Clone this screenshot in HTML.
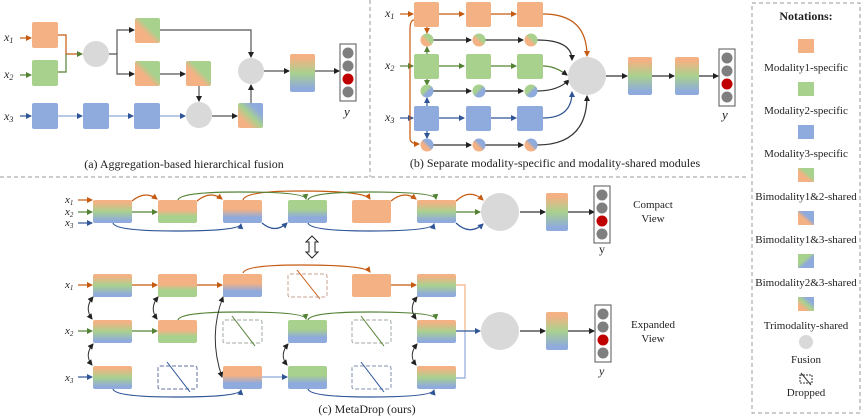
<!DOCTYPE html>
<html><head><meta charset="utf-8"><style>
html,body{margin:0;padding:0;background:#fff;}
svg{display:block;font-family:"Liberation Serif",serif;}
</style></head><body>
<svg width="864" height="418" viewBox="0 0 864 418" xmlns="http://www.w3.org/2000/svg">
<defs>
<linearGradient id="d12" x1="0" y1="1" x2="1" y2="0"><stop offset="0.4" stop-color="#f4b183"/><stop offset="0.6" stop-color="#a9d18e"/></linearGradient>
<linearGradient id="d13" x1="0" y1="1" x2="1" y2="0"><stop offset="0.4" stop-color="#f4b183"/><stop offset="0.6" stop-color="#8faadc"/></linearGradient>
<linearGradient id="d23" x1="0" y1="0" x2="1" y2="1"><stop offset="0.4" stop-color="#a9d18e"/><stop offset="0.6" stop-color="#8faadc"/></linearGradient>
<linearGradient id="d123" x1="0" y1="1" x2="1" y2="0"><stop offset="0.25" stop-color="#f4b183"/><stop offset="0.5" stop-color="#a9d18e"/><stop offset="0.75" stop-color="#8faadc"/></linearGradient>
<linearGradient id="v123" x1="0" y1="0" x2="0" y2="1"><stop offset="0.1" stop-color="#f4b183"/><stop offset="0.5" stop-color="#a9d18e"/><stop offset="0.9" stop-color="#8faadc"/></linearGradient>
<linearGradient id="v12" x1="0" y1="0" x2="0" y2="1"><stop offset="0.45" stop-color="#f4b183"/><stop offset="0.7" stop-color="#a9d18e"/></linearGradient>
<linearGradient id="v13" x1="0" y1="0" x2="0" y2="1"><stop offset="0.4" stop-color="#f4b183"/><stop offset="0.75" stop-color="#8faadc"/></linearGradient>
<linearGradient id="v23" x1="0" y1="0" x2="0" y2="1"><stop offset="0.4" stop-color="#a9d18e"/><stop offset="0.75" stop-color="#8faadc"/></linearGradient>
<marker id="ao" markerWidth="6" markerHeight="6" refX="5" refY="3" orient="auto" markerUnits="userSpaceOnUse"><path d="M0,0L6,3L0,6z" fill="#c55a11"/></marker>
<marker id="ag" markerWidth="6" markerHeight="6" refX="5" refY="3" orient="auto" markerUnits="userSpaceOnUse"><path d="M0,0L6,3L0,6z" fill="#548235"/></marker>
<marker id="ab" markerWidth="6" markerHeight="6" refX="5" refY="3" orient="auto" markerUnits="userSpaceOnUse"><path d="M0,0L6,3L0,6z" fill="#2f5597"/></marker>
<marker id="ak" markerWidth="6" markerHeight="6" refX="5" refY="3" orient="auto" markerUnits="userSpaceOnUse"><path d="M0,0L6,3L0,6z" fill="#222"/></marker>
<marker id="aks" markerWidth="6" markerHeight="6" refX="1" refY="3" orient="auto" markerUnits="userSpaceOnUse"><path d="M6,0L0,3L6,6z" fill="#222"/></marker>
<g id="ybox"><rect x="0" y="0" width="16" height="57" fill="#fff" stroke="#555" stroke-width="1"/><circle cx="8" cy="9" r="5.5" fill="#7f7f7f"/><circle cx="8" cy="22" r="5.5" fill="#7f7f7f"/><circle cx="8" cy="35" r="5.5" fill="#c00000"/><circle cx="8" cy="48" r="5.5" fill="#7f7f7f"/></g>
</defs>

<g stroke="#999" stroke-width="1" stroke-dasharray="4,3" fill="none">
<line x1="0" y1="177" x2="748" y2="177"/>
<line x1="370" y1="0" x2="370" y2="177"/>
<rect x="752" y="3" width="108" height="410"/>
</g>

<!-- (a) -->
<g fill="none" stroke-width="1.2">
<path d="M20,38H31" stroke="#c55a11" marker-end="url(#ao)"/>
<path d="M20,75H31" stroke="#548235" marker-end="url(#ag)"/>
<path d="M20,116H31" stroke="#2f5597" marker-end="url(#ab)"/>
<path d="M58,35H66V54H82" stroke="#c55a11" marker-end="url(#ag)"/>
<path d="M58,72H66V54" stroke="#548235"/>
<path d="M109,54H117V74H134" stroke="#555" marker-end="url(#ak)"/>
<path d="M117,54V30H134" stroke="#555" marker-end="url(#ak)"/>
<path d="M160,30H251V57" stroke="#555" marker-end="url(#ak)"/>
<path d="M160,74H185" stroke="#555" marker-end="url(#ak)"/>
<path d="M199,86V101" stroke="#555" marker-end="url(#ak)"/>
<path d="M58,116H82" stroke="#8faadc" marker-end="url(#ab)"/>
<path d="M109,116H133" stroke="#8faadc" marker-end="url(#ab)"/>
<path d="M160,116H185" stroke="#8faadc" marker-end="url(#ab)"/>
<path d="M212,116H237" stroke="#555" marker-end="url(#ak)"/>
<path d="M251,103V85" stroke="#555" marker-end="url(#ak)"/>
<path d="M264,71H289" stroke="#555" marker-end="url(#ak)"/>
<path d="M315,71H339" stroke="#555" marker-end="url(#ak)"/>
</g>
<g>
<rect x="32" y="22" width="26" height="26" rx="2" fill="#f4b183"/>
<rect x="32" y="60" width="26" height="26" rx="2" fill="#a9d18e"/>
<rect x="32" y="103" width="26" height="26" rx="2" fill="#8faadc"/>
<rect x="83" y="103" width="26" height="26" rx="2" fill="#8faadc"/>
<rect x="134" y="103" width="26" height="26" rx="2" fill="#8faadc"/>
<circle cx="96" cy="54" r="13" fill="#d9d9d9"/>
<rect x="135" y="18" width="25" height="25" rx="2" fill="url(#d12)"/>
<rect x="135" y="61" width="25" height="25" rx="2" fill="url(#d12)"/>
<rect x="186" y="61" width="25" height="25" rx="2" fill="url(#d12)"/>
<circle cx="199" cy="115" r="13" fill="#d9d9d9"/>
<rect x="238" y="103" width="25" height="25" rx="2" fill="url(#d123)"/>
<circle cx="251" cy="71" r="13" fill="#d9d9d9"/>
<rect x="290" y="54" width="25" height="38" rx="2" fill="url(#v123)"/>
<use href="#ybox" x="340" y="44"/>
</g>
<g font-style="italic" font-size="12" fill="#222">
<text x="4" y="41">x<tspan font-size="8" dy="2">1</tspan></text>
<text x="4" y="78">x<tspan font-size="8" dy="2">2</tspan></text>
<text x="4" y="120">x<tspan font-size="8" dy="2">3</tspan></text>
<text x="344" y="116" font-size="13">y</text>
</g>
<text x="184" y="168" font-size="12" text-anchor="middle" fill="#222">(a) Aggregation-based hierarchical fusion</text>

<!-- (b) -->
<g fill="none" stroke-width="1.2">
<path d="M400,14H413" stroke="#c55a11" marker-end="url(#ao)"/>
<path d="M439,14H464" stroke="#c55a11" marker-end="url(#ao)"/>
<path d="M491,14H516" stroke="#c55a11" marker-end="url(#ao)"/>
<path d="M543,14Q587,14 587,56" stroke="#c55a11" marker-end="url(#ao)"/>
<path d="M400,66H413" stroke="#548235" marker-end="url(#ag)"/>
<path d="M439,66H464" stroke="#548235" marker-end="url(#ag)"/>
<path d="M491,66H516" stroke="#548235" marker-end="url(#ag)"/>
<path d="M543,66Q555,66 567,75" stroke="#548235" marker-end="url(#ak)"/>
<path d="M400,118H413" stroke="#2f5597" marker-end="url(#ab)"/>
<path d="M439,118H464" stroke="#2f5597" marker-end="url(#ab)"/>
<path d="M491,118H516" stroke="#2f5597" marker-end="url(#ab)"/>
<path d="M543,118Q572,118 572,92" stroke="#2f5597" marker-end="url(#ab)"/>
<path d="M433,40H471" stroke="#333" marker-end="url(#ak)"/>
<path d="M485,40H523" stroke="#333" marker-end="url(#ak)"/>
<path d="M433,91H471" stroke="#333" marker-end="url(#ak)"/>
<path d="M485,91H523" stroke="#333" marker-end="url(#ak)"/>
<path d="M433,145H471" stroke="#333" marker-end="url(#ak)"/>
<path d="M485,145H523" stroke="#333" marker-end="url(#ak)"/>
<path d="M537,40Q572,40 572,60" stroke="#333" marker-end="url(#ak)"/>
<path d="M537,91Q558,91 569,80" stroke="#333" marker-end="url(#ak)"/>
<path d="M537,145Q587,145 587,96" stroke="#333" marker-end="url(#ak)"/>
<path d="M427,26V33" stroke="#c55a11" marker-end="url(#ao)"/>
<path d="M427,54V47" stroke="#548235" marker-end="url(#ag)"/>
<path d="M427,79V85" stroke="#548235" marker-end="url(#ag)"/>
<path d="M427,106V98" stroke="#2f5597" marker-end="url(#ab)"/>
<path d="M427,131V138" stroke="#2f5597" marker-end="url(#ab)"/>
<path d="M414,20Q410,20 410,30V138Q410,144 419,144" stroke="#c55a11" marker-end="url(#ao)"/>
<path d="M606,76H627" stroke="#333" marker-end="url(#ak)"/>
<path d="M652,76H674" stroke="#333" marker-end="url(#ak)"/>
<path d="M699,76H718" stroke="#333" marker-end="url(#ak)"/>
</g>
<g>
<rect x="414" y="2" width="25" height="25" rx="2" fill="#f4b183"/>
<rect x="466" y="2" width="25" height="25" rx="2" fill="#f4b183"/>
<rect x="517" y="2" width="26" height="25" rx="2" fill="#f4b183"/>
<rect x="414" y="54" width="25" height="25" rx="2" fill="#a9d18e"/>
<rect x="466" y="54" width="25" height="25" rx="2" fill="#a9d18e"/>
<rect x="517" y="54" width="26" height="25" rx="2" fill="#a9d18e"/>
<rect x="414" y="106" width="25" height="25" rx="2" fill="#8faadc"/>
<rect x="466" y="106" width="25" height="25" rx="2" fill="#8faadc"/>
<rect x="517" y="106" width="26" height="25" rx="2" fill="#8faadc"/>
<circle cx="427" cy="40" r="6.5" fill="url(#d12)"/><circle cx="479" cy="40" r="6.5" fill="url(#d12)"/><circle cx="531" cy="40" r="6.5" fill="url(#d12)"/>
<circle cx="427" cy="91" r="6.5" fill="url(#d23)"/><circle cx="479" cy="91" r="6.5" fill="url(#d23)"/><circle cx="531" cy="91" r="6.5" fill="url(#d23)"/>
<circle cx="427" cy="145" r="6.5" fill="url(#d13)"/><circle cx="479" cy="145" r="6.5" fill="url(#d13)"/><circle cx="531" cy="145" r="6.5" fill="url(#d13)"/>
<circle cx="587" cy="76" r="19" fill="#d9d9d9"/>
<rect x="628" y="57" width="24" height="38" rx="2" fill="url(#v123)"/>
<rect x="675" y="57" width="24" height="38" rx="2" fill="url(#v123)"/>
<use href="#ybox" x="719" y="49"/>
</g>
<g font-style="italic" font-size="12" fill="#222">
<text x="385" y="17">x<tspan font-size="8" dy="2">1</tspan></text>
<text x="385" y="69">x<tspan font-size="8" dy="2">2</tspan></text>
<text x="385" y="121">x<tspan font-size="8" dy="2">3</tspan></text>
<text x="722" y="119" font-size="13">y</text>
</g>
<text x="555" y="167" font-size="12" text-anchor="middle" fill="#222">(b) Separate modality-specific and modality-shared modules</text>

<!-- (c) compact -->
<g fill="none" stroke-width="1.2">
<path d="M78,200H92" stroke="#c55a11" marker-end="url(#ao)"/>
<path d="M78,212H92" stroke="#548235" marker-end="url(#ag)"/>
<path d="M78,223H92" stroke="#2f5597" marker-end="url(#ab)"/>
<path d="M132,201Q145,190 157,199" stroke="#c55a11" marker-end="url(#ao)"/>
<path d="M197,201Q210,190 222,199" stroke="#c55a11" marker-end="url(#ao)"/>
<path d="M243,200Q245,191 300,191Q365,191 370,199" stroke="#c55a11" marker-end="url(#ao)"/>
<path d="M391,201Q404,190 416,199" stroke="#c55a11" marker-end="url(#ao)"/>
<path d="M456,201Q470,188 483,200" stroke="#c55a11" marker-end="url(#ao)"/>
<path d="M178,200Q180,192 240,192Q305,192 306,199" stroke="#548235" marker-end="url(#ag)"/>
<path d="M308,200Q310,192 370,192Q435,192 436,199" stroke="#548235" marker-end="url(#ag)"/>
<path d="M132,212H157" stroke="#548235" marker-end="url(#ag)"/>
<path d="M456,212H480" stroke="#548235" marker-end="url(#ag)"/>
<path d="M113,223Q115,231 175,231Q240,231 241,224" stroke="#2f5597" marker-end="url(#ab)"/>
<path d="M262,223Q275,234 287,223" stroke="#2f5597" marker-end="url(#ab)"/>
<path d="M308,223Q310,231 370,231Q432,231 434,224" stroke="#2f5597" marker-end="url(#ab)"/>
<path d="M456,223Q470,236 483,224" stroke="#2f5597" marker-end="url(#ab)"/>
<path d="M520,212H545" stroke="#333" marker-end="url(#ak)"/>
<path d="M568,212H594" stroke="#333" marker-end="url(#ak)"/>
</g>
<g>
<rect x="93" y="200" width="39" height="23" rx="2" fill="url(#v123)"/>
<rect x="158" y="200" width="39" height="23" rx="2" fill="url(#v12)"/>
<rect x="223" y="200" width="39" height="23" rx="2" fill="url(#v13)"/>
<rect x="288" y="200" width="39" height="23" rx="2" fill="url(#v23)"/>
<rect x="352" y="200" width="39" height="23" rx="2" fill="#f4b183"/>
<rect x="417" y="200" width="39" height="23" rx="2" fill="url(#v123)"/>
<circle cx="500" cy="212" r="19" fill="#d9d9d9"/>
<rect x="546" y="193" width="22" height="38" rx="2" fill="url(#v123)"/>
<use href="#ybox" x="594" y="186"/>
</g>
<path d="M312,236L318,242H315V252H318L312,258L306,252H309V242H306Z" fill="#fff" stroke="#222" stroke-width="1"/>

<!-- (c) expanded -->
<g fill="none" stroke-width="1.2">
<path d="M78,285H92" stroke="#c55a11" marker-end="url(#ao)"/>
<path d="M132,285H157" stroke="#c55a11" marker-end="url(#ao)"/>
<path d="M197,285H222" stroke="#c55a11" marker-end="url(#ao)"/>
<path d="M391,285H416" stroke="#c55a11" marker-end="url(#ao)"/>
<path d="M243,273Q245,265 300,265Q365,265 370,272" stroke="#c55a11" marker-end="url(#ao)"/>
<path d="M78,331H92" stroke="#548235" marker-end="url(#ag)"/>
<path d="M132,331H157" stroke="#548235" marker-end="url(#ag)"/>
<path d="M178,320Q180,312 240,312Q305,312 306,319" stroke="#548235" marker-end="url(#ag)"/>
<path d="M308,320Q310,312 370,312Q435,312 436,319" stroke="#548235" marker-end="url(#ag)"/>
<path d="M78,377H92" stroke="#2f5597" marker-end="url(#ab)"/>
<path d="M262,377H287" stroke="#8faadc" marker-end="url(#ab)"/>
<path d="M113,389Q115,397 175,397Q240,397 241,390" stroke="#2f5597" marker-end="url(#ab)"/>
<path d="M308,389Q310,397 370,397Q432,397 434,390" stroke="#2f5597" marker-end="url(#ab)"/>
<path d="M456,285H465V331" stroke="#f4b183"/>
<path d="M456,378H465V331" stroke="#8faadc"/>
<path d="M456,331H480" stroke="#2f5597" marker-end="url(#ab)"/>
<path d="M520,331H545" stroke="#333" marker-end="url(#ak)"/>
<path d="M568,331H594" stroke="#333" marker-end="url(#ak)"/>
<g stroke="#333" stroke-width="1">
<path d="M93,297Q84,308 92,319" marker-start="url(#aks)" marker-end="url(#ak)"/>
<path d="M93,344Q84,355 92,365" marker-start="url(#aks)" marker-end="url(#ak)"/>
<path d="M158,297Q149,308 157,319" marker-start="url(#aks)" marker-end="url(#ak)"/>
<path d="M223,297Q208,336 222,377" marker-start="url(#aks)" marker-end="url(#ak)"/>
<path d="M288,344Q279,355 287,365" marker-start="url(#aks)" marker-end="url(#ak)"/>
<path d="M417,297Q408,308 416,319" marker-start="url(#aks)" marker-end="url(#ak)"/>
<path d="M417,344Q408,355 416,365" marker-start="url(#aks)" marker-end="url(#ak)"/>
</g>
</g>
<g>
<rect x="93" y="274" width="39" height="23" rx="2" fill="url(#v123)"/>
<rect x="158" y="274" width="39" height="23" rx="2" fill="url(#v12)"/>
<rect x="223" y="274" width="39" height="23" rx="2" fill="url(#v13)"/>
<rect x="352" y="274" width="39" height="23" rx="2" fill="#f4b183"/>
<rect x="417" y="274" width="39" height="23" rx="2" fill="url(#v123)"/>
<rect x="93" y="320" width="39" height="23" rx="2" fill="url(#v123)"/>
<rect x="158" y="320" width="39" height="23" rx="2" fill="url(#v12)"/>
<rect x="288" y="320" width="39" height="23" rx="2" fill="url(#v23)"/>
<rect x="417" y="320" width="39" height="23" rx="2" fill="url(#v123)"/>
<rect x="93" y="366" width="39" height="23" rx="2" fill="url(#v123)"/>
<rect x="223" y="366" width="39" height="23" rx="2" fill="url(#v13)"/>
<rect x="288" y="366" width="39" height="23" rx="2" fill="url(#v23)"/>
<rect x="417" y="366" width="39" height="23" rx="2" fill="url(#v123)"/>
<g fill="none" stroke-dasharray="4,2" stroke-width="1">
<rect x="288" y="274" width="39" height="23" rx="2" stroke="#c9a090"/>
<rect x="223" y="320" width="39" height="23" rx="2" stroke="#a0a8a0"/>
<rect x="352" y="320" width="39" height="23" rx="2" stroke="#a0a8a0"/>
<rect x="158" y="366" width="39" height="23" rx="2" stroke="#6070a0"/>
<rect x="352" y="366" width="39" height="23" rx="2" stroke="#8090b0"/>
</g>
<g stroke-width="1">
<line x1="297" y1="270" x2="320" y2="299" stroke="#c55a11"/>
<line x1="232" y1="316" x2="255" y2="346" stroke="#548235"/>
<line x1="361" y1="316" x2="384" y2="346" stroke="#548235"/>
<line x1="167" y1="362" x2="190" y2="392" stroke="#2f5597"/>
<line x1="361" y1="362" x2="384" y2="392" stroke="#2f5597"/>
</g>
<circle cx="500" cy="331" r="19" fill="#d9d9d9"/>
<rect x="546" y="312" width="22" height="38" rx="2" fill="url(#v123)"/>
<use href="#ybox" x="595" y="305"/>
</g>
<g font-style="italic" font-size="11" fill="#222">
<text x="65" y="203">x<tspan font-size="7" dy="2">1</tspan></text>
<text x="65" y="215">x<tspan font-size="7" dy="2">2</tspan></text>
<text x="65" y="226">x<tspan font-size="7" dy="2">3</tspan></text>
<text x="65" y="288">x<tspan font-size="7" dy="2">1</tspan></text>
<text x="65" y="334">x<tspan font-size="7" dy="2">2</tspan></text>
<text x="65" y="381">x<tspan font-size="7" dy="2">3</tspan></text>
<text x="599" y="375" font-size="12">y</text>
</g>
<text x="599" y="253" font-size="12" fill="#222">y</text>
<g font-size="11" fill="#222" text-anchor="middle">
<text x="653" y="208">Compact</text><text x="653" y="222">View</text>
<text x="653" y="328">Expanded</text><text x="653" y="342">View</text>
</g>
<text x="367" y="413" font-size="12" text-anchor="middle" fill="#222">(c) MetaDrop (ours)</text>

<!-- legend -->
<g font-size="11" fill="#222" text-anchor="middle">
<text x="806" y="20" font-weight="bold" font-size="12">Notations:</text>
<rect x="798" y="39" width="16" height="14" fill="#f4b183"/><text x="806" y="71">Modality1-specific</text>
<rect x="798" y="82" width="16" height="14" fill="#a9d18e"/><text x="806" y="114">Modality2-specific</text>
<rect x="798" y="125" width="16" height="14" fill="#8faadc"/><text x="806" y="157">Modality3-specific</text>
<rect x="798" y="168" width="16" height="14" fill="url(#d12)"/><text x="806" y="200">Bimodality1&amp;2-shared</text>
<rect x="798" y="211" width="16" height="14" fill="url(#d13)"/><text x="806" y="243">Bimodality1&amp;3-shared</text>
<rect x="798" y="254" width="16" height="14" fill="url(#d23)"/><text x="806" y="286">Bimodality2&amp;3-shared</text>
<rect x="798" y="297" width="16" height="14" fill="url(#d123)"/><text x="806" y="329">Trimodality-shared</text>
<circle cx="806" cy="342" r="7" fill="#d9d9d9"/><text x="806" y="363">Fusion</text>
<rect x="800" y="375" width="12" height="8" fill="none" stroke="#333" stroke-dasharray="2,1"/><line x1="801" y1="373" x2="811" y2="385" stroke="#333"/>
<text x="806" y="396">Dropped</text>
</g>
</svg>
</body></html>
